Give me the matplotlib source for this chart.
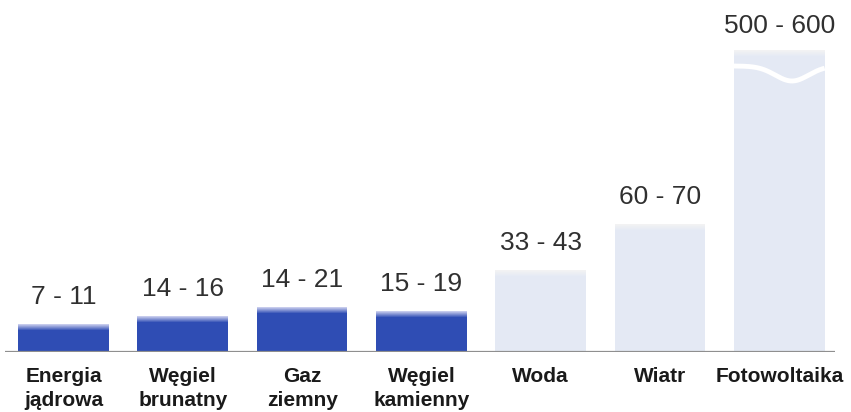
import numpy as np
import matplotlib
matplotlib.use("Agg")
import matplotlib.pyplot as plt
import matplotlib.transforms as mtransforms
from matplotlib.colors import to_rgb

# Data: cost ranges per energy source
categories = ["Energia\njądrowa", "Węgiel\nbrunatny", "Gaz\nziemny", "Węgiel\nkamienny",
              "Woda", "Wiatr", "Fotowoltaika"]
low_values = [7, 14, 14, 15, 33, 60, 500]
high_values = [11, 16, 21, 19, 43, 70, 600]
range_labels = [f"{lo} - {hi}" for lo, hi in zip(low_values, high_values)]
is_conventional = [True, True, True, True, False, False, False]

# Styling
dark_color = "#2f4db4"
dark_top = "#c6cbec"
light_color = "#e4e9f4"
light_top = "#f2f2f3"
text_color = "#303030"
label_color = "#1a1a1a"

W, H = 851, 412
fig = plt.figure(figsize=(W / 100, H / 100), dpi=100)
ax_left, ax_right, ax_base, ax_top = 5, 835, 352, 50
ax = fig.add_axes([ax_left / W, (H - ax_base) / H,
                   (ax_right - ax_left) / W, (ax_base - ax_top) / H])

floor = -5.4
y_max = 172.8
ax.set_xlim(-0.49, 6.467)
ax.set_ylim(floor, y_max)
px_per_unit = (ax_base - ax_top) / (y_max - floor)

x = np.arange(len(categories))
width = 0.76

def blend(c1, c2, t):
    a, b = np.array(to_rgb(c1)), np.array(to_rgb(c2))
    return tuple(a + (b - a) * t)

for xi, hi, conv in zip(x, high_values, is_conventional):
    top = min(hi, y_max)
    base_c = dark_color if conv else light_color
    top_c = dark_top if conv else light_top
    ax.bar(xi, top - floor, bottom=floor, width=width, color=base_c,
           edgecolor="none", zorder=2)
    # soft fade along the top edge of each bar
    n = 7
    step = 1.0 / px_per_unit
    for k in range(n):
        t = k / (n - 1)
        ax.bar(xi, step, bottom=top - (k + 1) * step, width=width,
               color=blend(top_c, base_c, t), edgecolor="none", zorder=3)

# Baseline
ax.axhline(floor, color="#8f8f8f", lw=1.6, zorder=4)

# Value range labels above bars
for xi, hi, lab in zip(x, high_values, range_labels):
    top = min(hi, y_max)
    offset = 20 if hi <= y_max else 17
    ax.annotate(lab, (xi, top), xytext=(0, offset), textcoords="offset pixels",
                ha="center", va="baseline", fontsize=19, color=text_color,
                family="Liberation Sans", annotation_clip=False)

# Break mark on the bar that exceeds the scale
trans = mtransforms.blended_transform_factory(ax.transData, ax.transAxes)
for xi, hi in zip(x, high_values):
    if hi > y_max:
        t = np.linspace(0, 1, 200)
        wx = xi - width / 2 + t * width
        wy_px = 66 + 15 * np.exp(-((t - 0.64) / 0.26) ** 2)
        wy = (ax_base - wy_px) / (ax_base - ax_top)
        ax.plot(wx, wy, color="white", lw=3.5, transform=trans, zorder=5,
                solid_capstyle="butt")

# Category labels
ax.set_xticks(x)
ax.set_xticklabels(categories, fontsize=15, fontweight="bold", color=label_color,
                   family="Liberation Sans", linespacing=1.3)
ax.tick_params(axis="x", length=0, pad=11)
ax.set_yticks([])
for s in ax.spines.values():
    s.set_visible(False)

fig.savefig("out.png", dpi=100)
